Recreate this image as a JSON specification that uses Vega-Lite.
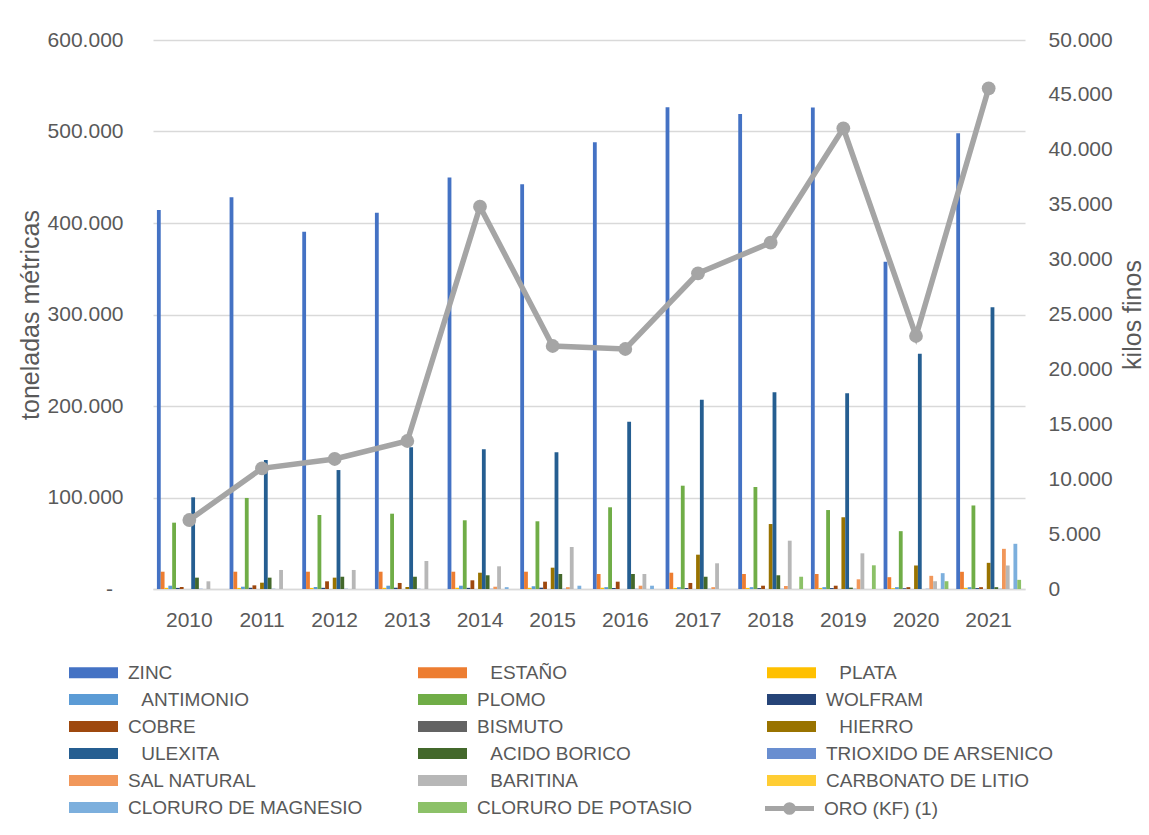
{
  "$schema": "https://vega.github.io/schema/vega-lite/v6.json",
  "width": 872,
  "height": 549,
  "autosize": {"type": "none"},
  "padding": {"left": 153, "top": 40, "right": 124, "bottom": 246},
  "background": "white",
  "config": {
    "locale": {"number": {"decimal": ",", "thousands": ".", "grouping": [3], "currency": ["", ""]}},
    "font": "Liberation Sans",
    "view": {"stroke": null},
    "axis": {"labelColor": "#595959", "titleColor": "#595959", "labelFont": "Liberation Sans", "titleFont": "Liberation Sans", "labelFontSize": 21, "titleFontSize": 25, "titleFontWeight": "normal"},
    "legend": {"labelFont": "Liberation Sans", "labelColor": "#595959", "labelFontSize": 19, "padding": 0, "titlePadding": 0}
  },
  "datasets": {
    "barras": [
      {"anio":"2010","serie":"ZINC","valor":414200},{"anio":"2010","serie":"ESTAÑO","valor":18900},{"anio":"2010","serie":"PLATA","valor":1260},{"anio":"2010","serie":"ANTIMONIO","valor":3600},{"anio":"2010","serie":"PLOMO","valor":72500},{"anio":"2010","serie":"WOLFRAM","valor":1200},{"anio":"2010","serie":"COBRE","valor":2200},{"anio":"2010","serie":"BISMUTO","valor":0},{"anio":"2010","serie":"HIERRO","valor":0},{"anio":"2010","serie":"ULEXITA","valor":100200},{"anio":"2010","serie":"ACIDO BORICO","valor":12400},{"anio":"2010","serie":"TRIOXIDO DE ARSENICO","valor":300},{"anio":"2010","serie":"SAL NATURAL","valor":0},{"anio":"2010","serie":"BARITINA","valor":8400},{"anio":"2010","serie":"CARBONATO DE LITIO","valor":0},{"anio":"2010","serie":"CLORURO DE MAGNESIO","valor":0},{"anio":"2010","serie":"CLORURO DE POTASIO","valor":0},
      {"anio":"2011","serie":"ZINC","valor":428100},{"anio":"2011","serie":"ESTAÑO","valor":18900},{"anio":"2011","serie":"PLATA","valor":1210},{"anio":"2011","serie":"ANTIMONIO","valor":2500},{"anio":"2011","serie":"PLOMO","valor":99500},{"anio":"2011","serie":"WOLFRAM","valor":1350},{"anio":"2011","serie":"COBRE","valor":4000},{"anio":"2011","serie":"BISMUTO","valor":0},{"anio":"2011","serie":"HIERRO","valor":6900},{"anio":"2011","serie":"ULEXITA","valor":141000},{"anio":"2011","serie":"ACIDO BORICO","valor":12400},{"anio":"2011","serie":"TRIOXIDO DE ARSENICO","valor":300},{"anio":"2011","serie":"SAL NATURAL","valor":0},{"anio":"2011","serie":"BARITINA","valor":20800},{"anio":"2011","serie":"CARBONATO DE LITIO","valor":0},{"anio":"2011","serie":"CLORURO DE MAGNESIO","valor":0},{"anio":"2011","serie":"CLORURO DE POTASIO","valor":0},
      {"anio":"2012","serie":"ZINC","valor":390500},{"anio":"2012","serie":"ESTAÑO","valor":18900},{"anio":"2012","serie":"PLATA","valor":1200},{"anio":"2012","serie":"ANTIMONIO","valor":2200},{"anio":"2012","serie":"PLOMO","valor":80900},{"anio":"2012","serie":"WOLFRAM","valor":1300},{"anio":"2012","serie":"COBRE","valor":8400},{"anio":"2012","serie":"BISMUTO","valor":0},{"anio":"2012","serie":"HIERRO","valor":12400},{"anio":"2012","serie":"ULEXITA","valor":130000},{"anio":"2012","serie":"ACIDO BORICO","valor":13400},{"anio":"2012","serie":"TRIOXIDO DE ARSENICO","valor":300},{"anio":"2012","serie":"SAL NATURAL","valor":0},{"anio":"2012","serie":"BARITINA","valor":20800},{"anio":"2012","serie":"CARBONATO DE LITIO","valor":0},{"anio":"2012","serie":"CLORURO DE MAGNESIO","valor":0},{"anio":"2012","serie":"CLORURO DE POTASIO","valor":0},
      {"anio":"2013","serie":"ZINC","valor":411300},{"anio":"2013","serie":"ESTAÑO","valor":18900},{"anio":"2013","serie":"PLATA","valor":1280},{"anio":"2013","serie":"ANTIMONIO","valor":3600},{"anio":"2013","serie":"PLOMO","valor":82300},{"anio":"2013","serie":"WOLFRAM","valor":1400},{"anio":"2013","serie":"COBRE","valor":6600},{"anio":"2013","serie":"BISMUTO","valor":0},{"anio":"2013","serie":"HIERRO","valor":2200},{"anio":"2013","serie":"ULEXITA","valor":155000},{"anio":"2013","serie":"ACIDO BORICO","valor":13400},{"anio":"2013","serie":"TRIOXIDO DE ARSENICO","valor":300},{"anio":"2013","serie":"SAL NATURAL","valor":0},{"anio":"2013","serie":"BARITINA","valor":30600},{"anio":"2013","serie":"CARBONATO DE LITIO","valor":0},{"anio":"2013","serie":"CLORURO DE MAGNESIO","valor":0},{"anio":"2013","serie":"CLORURO DE POTASIO","valor":0},
      {"anio":"2014","serie":"ZINC","valor":449600},{"anio":"2014","serie":"ESTAÑO","valor":18900},{"anio":"2014","serie":"PLATA","valor":1340},{"anio":"2014","serie":"ANTIMONIO","valor":3600},{"anio":"2014","serie":"PLOMO","valor":75100},{"anio":"2014","serie":"WOLFRAM","valor":1250},{"anio":"2014","serie":"COBRE","valor":9500},{"anio":"2014","serie":"BISMUTO","valor":0},{"anio":"2014","serie":"HIERRO","valor":17800},{"anio":"2014","serie":"ULEXITA","valor":152700},{"anio":"2014","serie":"ACIDO BORICO","valor":15000},{"anio":"2014","serie":"TRIOXIDO DE ARSENICO","valor":300},{"anio":"2014","serie":"SAL NATURAL","valor":2500},{"anio":"2014","serie":"BARITINA","valor":24800},{"anio":"2014","serie":"CARBONATO DE LITIO","valor":0},{"anio":"2014","serie":"CLORURO DE MAGNESIO","valor":2000},{"anio":"2014","serie":"CLORURO DE POTASIO","valor":0},
      {"anio":"2015","serie":"ZINC","valor":442300},{"anio":"2015","serie":"ESTAÑO","valor":18900},{"anio":"2015","serie":"PLATA","valor":1300},{"anio":"2015","serie":"ANTIMONIO","valor":3000},{"anio":"2015","serie":"PLOMO","valor":74000},{"anio":"2015","serie":"WOLFRAM","valor":1450},{"anio":"2015","serie":"COBRE","valor":8000},{"anio":"2015","serie":"BISMUTO","valor":0},{"anio":"2015","serie":"HIERRO","valor":23300},{"anio":"2015","serie":"ULEXITA","valor":149400},{"anio":"2015","serie":"ACIDO BORICO","valor":16400},{"anio":"2015","serie":"TRIOXIDO DE ARSENICO","valor":300},{"anio":"2015","serie":"SAL NATURAL","valor":2000},{"anio":"2015","serie":"BARITINA","valor":45900},{"anio":"2015","serie":"CARBONATO DE LITIO","valor":0},{"anio":"2015","serie":"CLORURO DE MAGNESIO","valor":3600},{"anio":"2015","serie":"CLORURO DE POTASIO","valor":0},
      {"anio":"2016","serie":"ZINC","valor":488200},{"anio":"2016","serie":"ESTAÑO","valor":16400},{"anio":"2016","serie":"PLATA","valor":1350},{"anio":"2016","serie":"ANTIMONIO","valor":2000},{"anio":"2016","serie":"PLOMO","valor":89300},{"anio":"2016","serie":"WOLFRAM","valor":1100},{"anio":"2016","serie":"COBRE","valor":8000},{"anio":"2016","serie":"BISMUTO","valor":0},{"anio":"2016","serie":"HIERRO","valor":0},{"anio":"2016","serie":"ULEXITA","valor":182900},{"anio":"2016","serie":"ACIDO BORICO","valor":16400},{"anio":"2016","serie":"TRIOXIDO DE ARSENICO","valor":300},{"anio":"2016","serie":"SAL NATURAL","valor":3600},{"anio":"2016","serie":"BARITINA","valor":16400},{"anio":"2016","serie":"CARBONATO DE LITIO","valor":0},{"anio":"2016","serie":"CLORURO DE MAGNESIO","valor":3600},{"anio":"2016","serie":"CLORURO DE POTASIO","valor":0},
      {"anio":"2017","serie":"ZINC","valor":526500},{"anio":"2017","serie":"ESTAÑO","valor":17800},{"anio":"2017","serie":"PLATA","valor":1200},{"anio":"2017","serie":"ANTIMONIO","valor":2000},{"anio":"2017","serie":"PLOMO","valor":112900},{"anio":"2017","serie":"WOLFRAM","valor":1100},{"anio":"2017","serie":"COBRE","valor":6600},{"anio":"2017","serie":"BISMUTO","valor":0},{"anio":"2017","serie":"HIERRO","valor":37500},{"anio":"2017","serie":"ULEXITA","valor":206900},{"anio":"2017","serie":"ACIDO BORICO","valor":13400},{"anio":"2017","serie":"TRIOXIDO DE ARSENICO","valor":300},{"anio":"2017","serie":"SAL NATURAL","valor":2000},{"anio":"2017","serie":"BARITINA","valor":28100},{"anio":"2017","serie":"CARBONATO DE LITIO","valor":0},{"anio":"2017","serie":"CLORURO DE MAGNESIO","valor":0},{"anio":"2017","serie":"CLORURO DE POTASIO","valor":0},
      {"anio":"2018","serie":"ZINC","valor":519200},{"anio":"2018","serie":"ESTAÑO","valor":16400},{"anio":"2018","serie":"PLATA","valor":1190},{"anio":"2018","serie":"ANTIMONIO","valor":2000},{"anio":"2018","serie":"PLOMO","valor":111500},{"anio":"2018","serie":"WOLFRAM","valor":1000},{"anio":"2018","serie":"COBRE","valor":3600},{"anio":"2018","serie":"BISMUTO","valor":0},{"anio":"2018","serie":"HIERRO","valor":71000},{"anio":"2018","serie":"ULEXITA","valor":215000},{"anio":"2018","serie":"ACIDO BORICO","valor":15000},{"anio":"2018","serie":"TRIOXIDO DE ARSENICO","valor":300},{"anio":"2018","serie":"SAL NATURAL","valor":3300},{"anio":"2018","serie":"BARITINA","valor":52800},{"anio":"2018","serie":"CARBONATO DE LITIO","valor":0},{"anio":"2018","serie":"CLORURO DE MAGNESIO","valor":0},{"anio":"2018","serie":"CLORURO DE POTASIO","valor":13400},
      {"anio":"2019","serie":"ZINC","valor":526100},{"anio":"2019","serie":"ESTAÑO","valor":16400},{"anio":"2019","serie":"PLATA","valor":1160},{"anio":"2019","serie":"ANTIMONIO","valor":2000},{"anio":"2019","serie":"PLOMO","valor":86300},{"anio":"2019","serie":"WOLFRAM","valor":1000},{"anio":"2019","serie":"COBRE","valor":3600},{"anio":"2019","serie":"BISMUTO","valor":0},{"anio":"2019","serie":"HIERRO","valor":78400},{"anio":"2019","serie":"ULEXITA","valor":213900},{"anio":"2019","serie":"ACIDO BORICO","valor":1500},{"anio":"2019","serie":"TRIOXIDO DE ARSENICO","valor":300},{"anio":"2019","serie":"SAL NATURAL","valor":10600},{"anio":"2019","serie":"BARITINA","valor":39000},{"anio":"2019","serie":"CARBONATO DE LITIO","valor":0},{"anio":"2019","serie":"CLORURO DE MAGNESIO","valor":0},{"anio":"2019","serie":"CLORURO DE POTASIO","valor":25900},
      {"anio":"2020","serie":"ZINC","valor":357700},{"anio":"2020","serie":"ESTAÑO","valor":12900},{"anio":"2020","serie":"PLATA","valor":930},{"anio":"2020","serie":"ANTIMONIO","valor":2000},{"anio":"2020","serie":"PLOMO","valor":63200},{"anio":"2020","serie":"WOLFRAM","valor":800},{"anio":"2020","serie":"COBRE","valor":2000},{"anio":"2020","serie":"BISMUTO","valor":0},{"anio":"2020","serie":"HIERRO","valor":25700},{"anio":"2020","serie":"ULEXITA","valor":257000},{"anio":"2020","serie":"ACIDO BORICO","valor":0},{"anio":"2020","serie":"TRIOXIDO DE ARSENICO","valor":300},{"anio":"2020","serie":"SAL NATURAL","valor":14400},{"anio":"2020","serie":"BARITINA","valor":8500},{"anio":"2020","serie":"CARBONATO DE LITIO","valor":0},{"anio":"2020","serie":"CLORURO DE MAGNESIO","valor":17300},{"anio":"2020","serie":"CLORURO DE POTASIO","valor":8500},
      {"anio":"2021","serie":"ZINC","valor":498100},{"anio":"2021","serie":"ESTAÑO","valor":18800},{"anio":"2021","serie":"PLATA","valor":1300},{"anio":"2021","serie":"ANTIMONIO","valor":2000},{"anio":"2021","serie":"PLOMO","valor":91300},{"anio":"2021","serie":"WOLFRAM","valor":1000},{"anio":"2021","serie":"COBRE","valor":2000},{"anio":"2021","serie":"BISMUTO","valor":0},{"anio":"2021","serie":"HIERRO","valor":28600},{"anio":"2021","serie":"ULEXITA","valor":308000},{"anio":"2021","serie":"ACIDO BORICO","valor":2000},{"anio":"2021","serie":"TRIOXIDO DE ARSENICO","valor":300},{"anio":"2021","serie":"SAL NATURAL","valor":43900},{"anio":"2021","serie":"BARITINA","valor":25700},{"anio":"2021","serie":"CARBONATO DE LITIO","valor":0},{"anio":"2021","serie":"CLORURO DE MAGNESIO","valor":49400},{"anio":"2021","serie":"CLORURO DE POTASIO","valor":10000}
    ],
    "oro": [
      {"anio":"2010","oro":6284},{"anio":"2011","oro":10993},{"anio":"2012","oro":11840},{"anio":"2013","oro":13479},{"anio":"2014","oro":34818},{"anio":"2015","oro":22131},{"anio":"2016","oro":21858},{"anio":"2017","oro":28752},{"anio":"2018","oro":31540},{"anio":"2019","oro":41958},{"anio":"2020","oro":23042},{"anio":"2021","oro":45601}
    ]
  },
  "layer": [
    {
      "data": {"name": "barras"},
      "mark": {"type": "bar"},
      "encoding": {
        "x": {"field": "anio", "type": "nominal", "scale": {"paddingInner": 0.108, "paddingOuter": 0.054},
              "axis": {"title": null, "labelAngle": 0, "labelPadding": 20, "ticks": false, "grid": false, "domainColor": "#d9d9d9", "domainWidth": 1.5}},
        "xOffset": {"field": "serie", "type": "nominal", "scale": {"paddingInner": 0, "paddingOuter": 0, "domain": ["ZINC","ESTAÑO","PLATA","ANTIMONIO","PLOMO","WOLFRAM","COBRE","BISMUTO","HIERRO","ULEXITA","ACIDO BORICO","TRIOXIDO DE ARSENICO","SAL NATURAL","BARITINA","CARBONATO DE LITIO","CLORURO DE MAGNESIO","CLORURO DE POTASIO"]}},
        "y": {"field": "valor", "type": "quantitative", "scale": {"domain": [0, 600000], "nice": false},
              "axis": {"title": "toneladas métricas", "values": [0,100000,200000,300000,400000,500000,600000], "format": ",.0f", "labelExpr": "datum.value === 0 ? '-\u2002\u200b' : datum.label", "grid": true, "gridColor": "#d9d9d9", "gridWidth": 1.5, "domain": false, "ticks": false, "labelPadding": 30, "titlePadding": 4}},
        "color": {"field": "serie", "type": "nominal",
                  "scale": {"domain": ["ZINC","ANTIMONIO","COBRE","ULEXITA","SAL NATURAL","CLORURO DE MAGNESIO","ESTAÑO","PLOMO","BISMUTO","ACIDO BORICO","BARITINA","CLORURO DE POTASIO","PLATA","WOLFRAM","HIERRO","TRIOXIDO DE ARSENICO","CARBONATO DE LITIO"],
                            "range": ["#4472C4","#5B9BD5","#9E480E","#255E91","#F1975A","#7CAFDD","#ED7D31","#70AD47","#636363","#43682B","#B7B7B7","#8CC168","#FFC000","#264478","#997300","#698ED0","#FFCD33"]},
                  "legend": {"title": null, "orient": "none", "legendX": -69, "legendY": 623, "columns": 3, "gridAlign": "all", "columnPadding": 55, "rowPadding": 7,
                             "symbolType": "M-4.4545,-1H4.4545V1H-4.4545Z", "symbolSize": 121, "symbolStrokeWidth": 0, "symbolOpacity": 1, "labelOffset": 25, "labelLimit": 320,
                             "labelExpr": "(datum.label == 'ESTAÑO' || datum.label == 'PLATA' || datum.label == 'ANTIMONIO' || datum.label == 'HIERRO' || datum.label == 'ULEXITA' || datum.label == 'ACIDO BORICO' || datum.label == 'BARITINA') ? '\u200b\u2002\u2009' + datum.label : datum.label"}}
      }
    },
    {
      "data": {"name": "oro"},
      "layer": [
        {
          "mark": {"type": "line", "strokeWidth": 5.5},
          "encoding": {
            "x": {"field": "anio", "type": "nominal"},
            "y": {"field": "oro", "type": "quantitative", "scale": {"domain": [0, 50000], "nice": false},
                  "axis": {"orient": "right", "title": "kilos finos", "titleAngle": 270, "titleBaseline": "top", "values": [0,5000,10000,15000,20000,25000,30000,35000,40000,45000,50000], "format": ",.0f", "grid": false, "domain": false, "ticks": false, "labelPadding": 23, "titlePadding": 8}},
            "stroke": {"datum": "ORO (KF) (1)", "type": "nominal", "scale": {"range": ["#A5A5A5"]},
                       "legend": {"title": null, "orient": "none", "legendX": 627, "legendY": 759, "symbolType": "M-4.4545,0H4.4545M-0.7,0A0.7,0.7 0 1,1 0.7,0A0.7,0.7 0 1,1 -0.7,0", "symbolSize": 121, "symbolStrokeWidth": 5, "labelOffset": 25, "labelLimit": 320}}
          }
        },
        {
          "mark": {"type": "circle", "size": 190, "opacity": 1, "color": "#A5A5A5"},
          "encoding": {
            "x": {"field": "anio", "type": "nominal"},
            "y": {"field": "oro", "type": "quantitative"}
          }
        }
      ]
    }
  ],
  "resolve": {"scale": {"y": "independent"}}
}
